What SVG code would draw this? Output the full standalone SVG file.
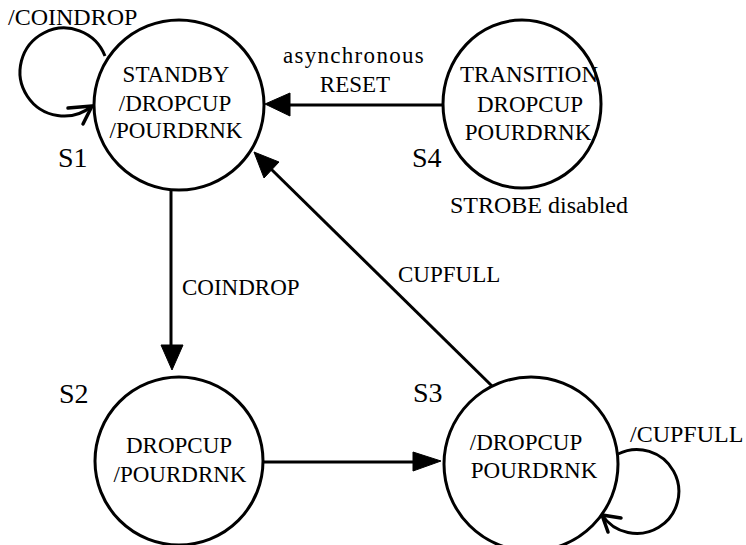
<svg xmlns="http://www.w3.org/2000/svg" width="746" height="545" viewBox="0 0 746 545">
  <style>
    .state { fill: #ffffff; stroke: #000000; stroke-width: 3; }
    .edge { fill: none; stroke: #000000; stroke-width: 3; }
    .head { fill: #000000; stroke: #000000; stroke-width: 1; stroke-linejoin: round; }
    .open { fill: none; stroke: #000000; stroke-width: 3.5; stroke-linecap: round; }
    text { font-family: "Liberation Serif", "Times New Roman", serif; font-size: 23px; fill: #000000; }
    .mid { text-anchor: middle; }
    .name { font-size: 28px; }
  </style>

  <!-- transitions -->
  <g id="connectors">
    <!-- S1 self loop (/COINDROP) -->
    <path class="edge" d="M 105 56 A 44 44 0 1 0 92 106"/>
    <path class="open" d="M 68 108 L 92 106 L 83 124"/>
    <!-- S1 -> S2 (COINDROP) -->
    <line class="edge" x1="171" y1="190" x2="171" y2="346"/>
    <polygon class="head" points="161,345 183,345 172,370"/>
    <!-- S2 -> S3 -->
    <line class="edge" x1="263" y1="462" x2="415" y2="462"/>
    <polygon class="head" points="413,452 413,471 441,461"/>
    <!-- S4 -> S1 (asynchronous RESET) -->
    <line class="edge" x1="444" y1="105" x2="288" y2="105"/>
    <polygon class="head" points="290,93 290,116 265,104"/>
    <!-- S3 -> S1 (CUPFULL) -->
    <line class="edge" x1="492" y1="386" x2="270" y2="168"/>
    <polygon class="head" points="254,152 279,162 264,178"/>
    <!-- S3 self loop (/CUPFULL) -->
    <path class="edge" d="M 618 454 A 42 42 0 1 1 602 515"/>
    <path class="open" d="M 621 518 L 602 515 L 608 532"/>
  </g>

  <g id="S1">
    <circle class="state" cx="179" cy="105" r="85"/>
    <text class="mid" x="176" y="82">STANDBY</text>
    <text class="mid" x="175" y="111">/DROPCUP</text>
    <text class="mid" x="176" y="138">/POURDRNK</text>
    <text class="name" x="58" y="167">S1</text>
  </g>

  <g id="S2">
    <circle class="state" cx="179" cy="461" r="84"/>
    <text class="mid" x="179" y="453">DROPCUP</text>
    <text class="mid" x="180" y="482">/POURDRNK</text>
    <text class="name" x="59" y="403">S2</text>
  </g>

  <g id="S3">
    <circle class="state" cx="531" cy="464" r="87"/>
    <text class="mid" x="526" y="450">/DROPCUP</text>
    <text class="mid" x="534" y="478">POURDRNK</text>
    <text class="name" x="413" y="402">S3</text>
  </g>

  <g id="S4">
    <ellipse class="state" cx="522" cy="104" rx="79" ry="84"/>
    <text class="mid" x="529" y="82">TRANSITION</text>
    <text class="mid" x="530" y="112">DROPCUP</text>
    <text class="mid" x="528" y="140">POURDRNK</text>
    <text class="name" x="412" y="167">S4</text>
    <text x="450" y="213" style="font-size:24px">STROBE disabled</text>
  </g>

  <!-- transition labels -->
  <g id="labels">
    <text x="8" y="25" style="font-size:24px">/COINDROP</text>
    <text x="182" y="295">COINDROP</text>
    <text x="398" y="282">CUPFULL</text>
    <text class="mid" x="354" y="63" letter-spacing="1.3">asynchronous</text>
    <text class="mid" x="355" y="92">RESET</text>
    <text x="630" y="442" style="font-size:24px">/CUPFULL</text>
  </g>
</svg>
